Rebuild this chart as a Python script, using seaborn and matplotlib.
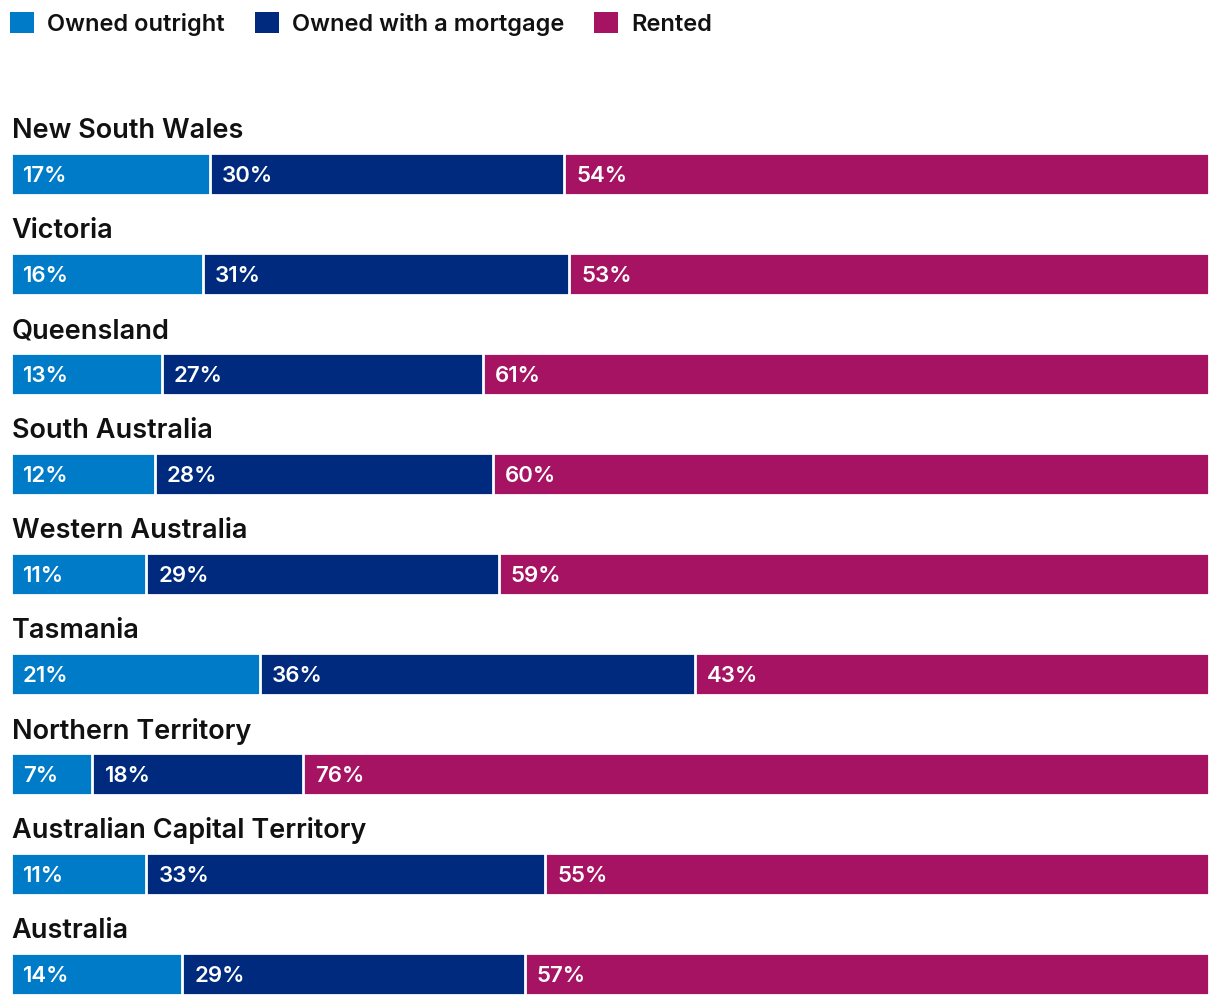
import pandas as pd
import matplotlib.pyplot as plt
import seaborn as sns
from matplotlib.patches import Patch

# Données (parts en %)
states = ["New South Wales", "Victoria", "Queensland", "South Australia",
          "Western Australia", "Tasmania", "Northern Territory",
          "Australian Capital Territory", "Australia"]
owned_outright = [16.6, 16.0, 12.6, 12.0, 11.3, 20.8, 6.8, 11.3, 14.3]
owned_mortgage = [29.6, 30.6, 26.8, 28.2, 29.4, 36.3, 17.6, 33.3, 28.6]
rented = [53.8, 53.4, 60.6, 59.8, 59.3, 42.9, 75.6, 55.4, 57.1]
series_names = ["Owned outright", "Owned with a mortgage", "Rented"]
colors = ["#007BC7", "#002A7E", "#A51362"]

df = pd.DataFrame({"state": states, "outright": owned_outright,
                   "mortgage": owned_mortgage, "rented": rented})
df["cum1"] = df["outright"]
df["cum2"] = df["outright"] + df["mortgage"]
df["cum3"] = df["cum2"] + df["rented"]

sns.set_style("white")
plt.rcParams["font.family"] = ["Inter", "DejaVu Sans"]

fig = plt.figure(figsize=(12.2, 10.06), dpi=100)
ax = fig.add_axes([11 / 1220, 1 - 995 / 1006, 1198 / 1220, 842 / 1006])

# barres empilées : on trace les cumuls du plus long au plus court
for col, name, c in [("cum3", series_names[2], colors[2]),
                     ("cum2", series_names[1], colors[1]),
                     ("cum1", series_names[0], colors[0])]:
    sns.barplot(data=df, x=col, y="state", color=c, width=0.42,
                saturation=1, edgecolor="white", linewidth=2, ax=ax, orient="h")

ax.set_xlim(0, df["cum3"].max())
ax.set_ylim(8.21, -0.21)
ax.axis("off")

# étiquettes de pourcentage dans les barres
for i, row in df.iterrows():
    starts = [0, row["cum1"], row["cum2"]]
    vals = [row["outright"], row["mortgage"], row["rented"]]
    for s, v in zip(starts, vals):
        ax.text(s + 1.0, i, f"{round(v):.0f}%", color="white", fontsize=16,
                fontweight="semibold", va="center_baseline", ha="left")
    ax.text(0.05, i - 0.43, row["state"], fontsize=19.5, fontweight="semibold",
            va="center", ha="left", color="#111111")

# légende en haut (carrés sans bordure)
handles = [Patch(facecolor=c, edgecolor="none") for c in colors]
ax.legend(handles, series_names, loc="upper left",
          bbox_to_anchor=(10 / 1220, 1 - 12 / 1006), bbox_transform=fig.transFigure,
          ncol=3, frameon=False, prop={"size": 17, "weight": "semibold"},
          handlelength=1.02, handleheight=1.02, handletextpad=0.55,
          columnspacing=1.27, borderpad=0, borderaxespad=0, labelcolor="#111111")

fig.savefig("out.png", dpi=100)
